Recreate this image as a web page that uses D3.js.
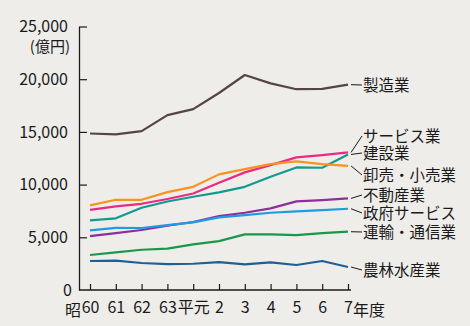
<!DOCTYPE html>
<html>
<head>
<meta charset="utf-8">
<script src="https://cdn.jsdelivr.net/npm/d3@7"></script>
<style>
  html, body { margin: 0; padding: 0; background: #efedea; }
  svg { display: block; }
  text { font-family: "Noto Sans CJK JP", "Noto Sans", sans-serif; fill: #1a1a1a; }
</style>
</head>
<body>
<svg id="chart" width="470" height="326"></svg>
<script>
// 年度 (昭和60年度〜平成7年度)
const years = ["60", "61", "62", "63", "平元", "2", "3", "4", "5", "6", "7"];
const yTicks = [0, 5000, 10000, 15000, 20000, 25000];

// 産業別の値 (億円)
const seizou      = [14850, 14760, 15070, 16590, 17160, 18690, 20400, 19600, 19050, 19080, 19480];
const service     = [7610, 7930, 8180, 8630, 9160, 10170, 11160, 11850, 12580, 12800, 13050];
const kensetsu    = [6600, 6800, 7800, 8400, 8850, 9260, 9790, 10740, 11630, 11600, 12860];
const oroshi      = [8030, 8560, 8560, 9290, 9790, 10970, 11470, 11940, 12200, 11940, 11780];
const fudousan    = [5120, 5400, 5690, 6100, 6450, 7010, 7330, 7740, 8410, 8530, 8690];
const seifu       = [5660, 5900, 5880, 6160, 6410, 6890, 7110, 7330, 7460, 7580, 7710];
const unyu        = [3320, 3570, 3820, 3920, 4330, 4640, 5280, 5280, 5210, 5400, 5530];
const nourin      = [2750, 2780, 2560, 2460, 2490, 2650, 2440, 2620, 2370, 2750, 2180];

const seriesNames = ["製造業", "サービス業", "建設業", "卸売・小売業", "不動産業", "政府サービス", "運輸・通信業", "農林水産業"];
const seriesValues = [seizou, service, kensetsu, oroshi, fudousan, seifu, unyu, nourin];
const seriesColors = ["#54444a", "#ec2a84", "#119a8e", "#f7931e", "#8e2e9c", "#1f9be3", "#18994a", "#1e5f96"];

// 右側ラベルの縦位置 (px)
const labelY = [85, 136, 153, 175, 195, 213, 232, 270];

const svg = d3.select("#chart");
const x0 = 79, xEnd = 351, yBase = 290;

const x = d3.scalePoint().domain(d3.range(years.length)).range([90, 348]);
const y = d3.scaleLinear().domain([0, 25000]).range([yBase, 26.5]);

// 縦軸
const yAxis = d3.axisLeft(y)
  .tickValues(yTicks)
  .tickSizeInner(-8)
  .tickSizeOuter(0)
  .tickPadding(11)
  .tickFormat(d3.format(","));
const gy = svg.append("g").attr("transform", `translate(${x0},0)`).call(yAxis);
gy.select(".domain").attr("stroke", "#1a1a1a").attr("stroke-width", 1.3);
gy.selectAll(".tick line").attr("stroke", "#1a1a1a").attr("stroke-width", 1.2);
gy.selectAll(".tick text").attr("font-size", 16).attr("fill", "#1a1a1a")
  .attr("font-family", "Noto Sans CJK JP");
gy.selectAll(".tick").filter(d => d === 0).select("line").remove();
gy.selectAll(".tick").filter(d => d === 0).select("text").attr("x", -7);

svg.append("text").attr("x", 70).attr("y", 52).attr("text-anchor", "end")
  .attr("font-size", 15).text("(億円)");

// 横軸
const xAxis = d3.axisBottom(x)
  .tickSizeInner(-6)
  .tickSizeOuter(0)
  .tickPadding(12)
  .tickFormat(i => years[i]);
const gx = svg.append("g").attr("transform", `translate(0,${yBase})`).call(xAxis);
gx.select(".domain").remove();
gx.selectAll(".tick line").attr("stroke", "#1a1a1a").attr("stroke-width", 1.2);
gx.selectAll(".tick text").attr("font-size", 16).attr("fill", "#1a1a1a")
  .attr("font-family", "Noto Sans CJK JP");
svg.append("line").attr("x1", x0).attr("x2", xEnd).attr("y1", yBase).attr("y2", yBase)
  .attr("stroke", "#1a1a1a").attr("stroke-width", 1.3);

svg.append("text").attr("x", x(0) - 9).attr("y", 316).attr("text-anchor", "end")
  .attr("font-size", 16).text("昭");
svg.append("text").attr("x", x(years.length - 1) + 5).attr("y", 316).attr("text-anchor", "start")
  .attr("font-size", 16).text("年度");

// 折れ線
const line = d3.line().x((d, i) => x(i)).y(d => y(d));
seriesValues.forEach((vals, k) => {
  svg.append("path").datum(vals)
    .attr("fill", "none")
    .attr("stroke", seriesColors[k])
    .attr("stroke-width", 2.2)
    .attr("stroke-linejoin", "round")
    .attr("d", line);
});

// ラベルと引き出し線
const lastX = x(years.length - 1);
seriesValues.forEach((vals, k) => {
  const ey = y(vals[vals.length - 1]);
  const ly = labelY[k];
  svg.append("path")
    .attr("d", `M${lastX + 3},${ey} L${lastX + 14},${ly}`)
    .attr("stroke", "#1a1a1a").attr("stroke-width", 1).attr("fill", "none");
  svg.append("text").attr("x", lastX + 15).attr("y", ly)
    .attr("dy", "0.36em").attr("font-size", 15.5).text(seriesNames[k]);
});
</script>
</body>
</html>
